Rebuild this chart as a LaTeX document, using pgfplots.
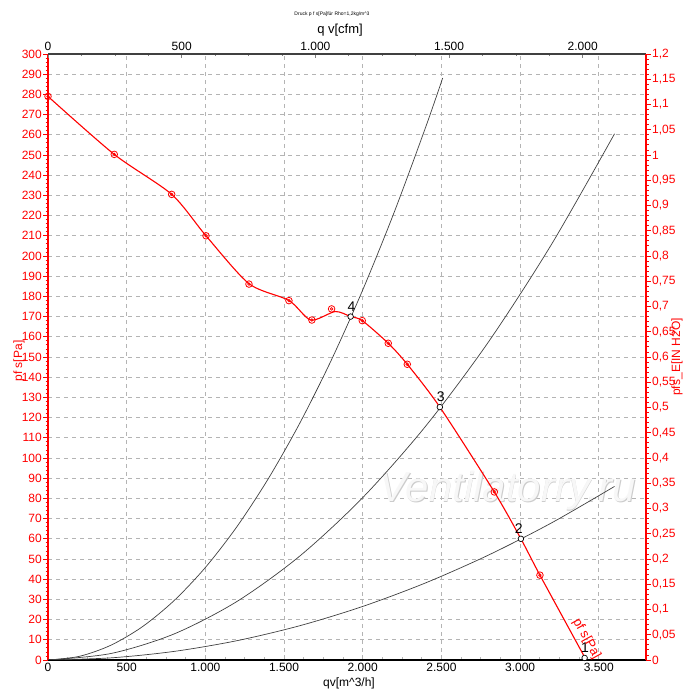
\documentclass[border=0pt]{standalone}
\usepackage{fontspec}
\setmainfont{Liberation Sans}
\usepackage{pgfplots}
\pgfplotsset{compat=1.18}
\definecolor{gridgray}{HTML}{B4B4B4}
\definecolor{sysgray}{HTML}{404040}
\definecolor{fanred}{HTML}{FF0000}
\begin{document}
\begin{tikzpicture}[x=1pt,y=1pt]
\useasboundingbox (0,0) rectangle (700,700);
% ---------- main axis: m^3/h vs Pa ----------
\begin{axis}[
  at={(48pt,40pt)}, anchor=south west,
  scale only axis, width=598pt, height=606pt,
  xmin=0, xmax=3800, ymin=0, ymax=300,
  axis x line*=bottom, axis y line*=left,
  axis line style={-},
  x axis line style={black, line width=1.6pt},
  y axis line style={fanred, line width=1.6pt},
  xtick={0,500,...,3500}, minor x tick num=3,
  ytick={0,10,...,300}, minor y tick num=4,
  xtick align=inside, ytick align=outside,
  major tick length=4.5pt, minor tick length=2.5pt,
  xtick style={gridgray, line width=0.6pt},
  ytick style={fanred, line width=0.8pt},
  grid=major,
  major grid style={gridgray, line width=0.6pt, dash pattern=on 4pt off 4pt},
  scaled x ticks=false, scaled y ticks=false,
  /pgf/number format/assume math mode=true,
  /pgf/number format/fixed,
  /pgf/number format/1000 sep={.},
  tick label style={font=\fontsize{12}{14}\selectfont},
  xticklabel style={black},
  yticklabel style={fanred, inner sep=1.5pt},
  clip mode=individual,
]
% watermark
\node[text=gray!40, font=\itshape\fontsize{42}{46}\selectfont] at (axis cs:2926,83.4) {Ventilatorry.ru};
\node[text=gray!6, font=\itshape\fontsize{42}{46}\selectfont] at (axis cs:2921,84) {Ventilatorry.ru};
% system curves
\addplot[sysgray, line width=0.7pt, smooth] coordinates {
(0,0) (200,1.83) (400,7.33) (600,16.49) (800,29.31) (1000,45.8) (1200,65.95)
(1400,89.77) (1600,117.25) (1800,148.39) (2000,183.2) (2200,221.67) (2400,263.81) (2508,288.1)};
\addplot[sysgray, line width=0.7pt, smooth] coordinates {
(0,0) (400,3.22) (800,12.86) (1200,28.94) (1600,51.46) (2000,80.4) (2400,115.78)
(2800,157.58) (3200,205.82) (3600,260.5)};
\addplot[sysgray, line width=0.7pt, smooth] coordinates {
(0,0) (400,1.06) (800,4.24) (1200,9.55) (1600,16.97) (2000,26.52) (2400,38.19)
(2800,51.98) (3200,67.89) (3600,85.93)};
% fan curve
\addplot[fanred, line width=1.1pt, smooth, tension=0.45] coordinates {
(0,279) (421,250.3) (786,230.5) (1004,210) (1277,186.3) (1531,178) (1670,168.3)
(1825,172.5) (1923,170) (1997,168) (2162,156.8) (2283,146.4) (2490,125.2)
(2836,83.2) (3005,60) (3126,42) (3420,0)};
% measured points
\addplot[fanred, only marks, mark=o, mark size=3.3pt, mark options={line width=0.8pt}] coordinates {
(0,279) (421,250.3) (786,230.5) (1004,210) (1277,186.1) (1531,177.9) (1677,168.3)
(1802,173.8) (1997,168) (2162,156.8) (2283,146.4) (2836,83.2) (3126,42)};
\addplot[fanred, only marks, mark=o, mark size=1.3pt, mark options={line width=0.7pt}] coordinates {
(0,279) (421,250.3) (786,230.5) (1004,210) (1277,186.1) (1531,177.9) (1677,168.3)
(1802,173.8) (1997,168) (2162,156.8) (2283,146.4) (2836,83.2) (3126,42)};
% operating points
\addplot[black, only marks, mark=*, mark size=2.8pt, mark options={fill=white, line width=0.7pt}] coordinates {
(3410,1) (3005,60) (2490,125.2) (1923,170)};
\node[anchor=south, inner sep=0pt, font=\fontsize{14}{14}\selectfont] at (axis cs:3412,3.5) {1};
\node[anchor=south, inner sep=0pt, font=\fontsize{14}{14}\selectfont] at (axis cs:2992,62.5) {2};
\node[anchor=south, inner sep=0pt, font=\fontsize{14}{14}\selectfont] at (axis cs:2496,127.7) {3};
\node[anchor=south, inner sep=0pt, font=\fontsize{14}{14}\selectfont] at (axis cs:1929,172.5) {4};
\node[text=fanred, rotate=-61, font=\fontsize{13}{13}\selectfont] at (axis cs:3422,10.5) {pf s[Pa]};
\end{axis}
% ---------- secondary axis: cfm vs in H2O ----------
\begin{axis}[
  at={(48pt,40pt)}, anchor=south west,
  scale only axis, width=598pt, height=606pt,
  xmin=0, xmax=2236.7, ymin=0, ymax=1.2,
  axis x line*=top, axis y line*=right,
  axis line style={-},
  x axis line style={sysgray, line width=1.6pt},
  y axis line style={fanred, line width=1.6pt},
  xtick={0,500,1000,1500,2000}, minor x tick num=3,
  ytick={0,0.05,0.1,0.15,0.2,0.25,0.3,0.35,0.4,0.45,0.5,0.55,0.6,0.65,0.7,0.75,0.8,0.85,0.9,0.95,1,1.05,1.1,1.15,1.2},
  minor y tick num=4,
  xtick align=inside, ytick align=outside,
  major tick length=4.5pt, minor tick length=2.5pt,
  xtick style={gray, line width=0.6pt},
  ytick style={fanred, line width=0.8pt},
  scaled x ticks=false, scaled y ticks=false,
  /pgf/number format/assume math mode=true,
  /pgf/number format/fixed,
  /pgf/number format/precision=2,
  /pgf/number format/dec sep={,},
  /pgf/number format/1000 sep={.},
  tick label style={font=\fontsize{12}{14}\selectfont},
  xticklabel style={black},
  yticklabel style={fanred, inner sep=1.5pt},
]
\addplot[draw=none] coordinates {(0,0)};
\end{axis}
% ---------- texts ----------
\node[font=\fontsize{5}{6}\selectfont] at (332,686) {Druck p f s[Pa]für Rho=1,2kg/m\textasciicircum 3};
\node[font=\fontsize{13}{14}\selectfont] at (340,670) {q v[cfm]};
\node[font=\fontsize{12}{14}\selectfont] at (349,17) {qv[m\textasciicircum 3/h]};
\node[text=fanred, rotate=90, font=\fontsize{12}{14}\selectfont] at (19,339) {pf s[Pa]};
\node[text=fanred, rotate=90, font=\fontsize{12}{14}\selectfont] at (677,343) {pfs\_E[IN H2O]};
\end{tikzpicture}
\end{document}
